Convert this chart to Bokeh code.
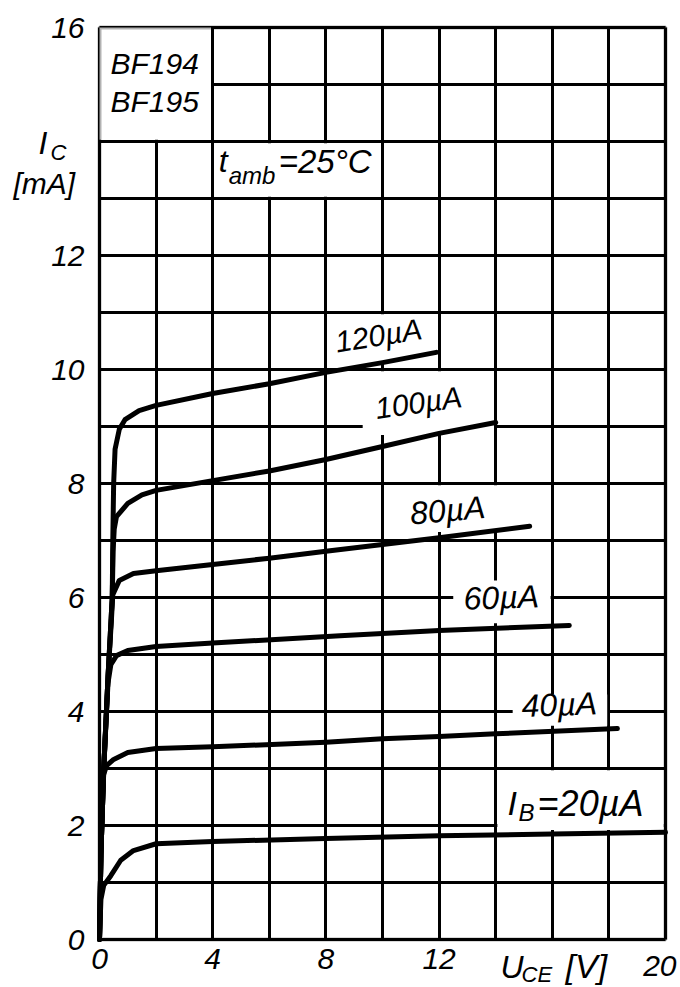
from bokeh.plotting import figure
from bokeh.models import Range1d, FixedTicker, Label, BoxAnnotation, LinearAxis, Grid
from bokeh.embed import file_html
from bokeh.resources import INLINE

# ---------------- data: I_C [mA] versus U_CE [V] for several base currents
u_120 = [0, 0.05, 0.15, 0.3, 0.45, 0.47, 0.5, 0.55, 0.7, 0.9, 1.4, 2, 4, 6, 8, 10, 11.9]
ic_120 = [0, 1.5, 3.0, 4.6, 6.0, 7.0, 8.0, 8.6, 8.95, 9.12, 9.28, 9.37, 9.58, 9.75, 9.95, 10.12, 10.3]

u_100 = [0, 0.05, 0.15, 0.3, 0.45, 0.48, 0.52, 0.6, 1.0, 1.5, 2, 4, 6, 8, 10, 12, 14]
ic_100 = [0, 1.5, 3.0, 4.6, 6.0, 6.8, 7.2, 7.42, 7.65, 7.8, 7.88, 8.05, 8.22, 8.42, 8.65, 8.88, 9.07]

u_80 = [0, 0.05, 0.15, 0.3, 0.42, 0.47, 0.7, 1.2, 2, 4, 6, 8, 10, 12, 15.2]
ic_80 = [0, 1.5, 3.0, 4.6, 5.6, 6.05, 6.3, 6.42, 6.47, 6.58, 6.69, 6.81, 6.93, 7.05, 7.25]

u_60 = [0, 0.05, 0.15, 0.3, 0.4, 0.6, 1.0, 2, 4, 8.5, 12, 16.6]
ic_60 = [0, 1.5, 3.0, 4.5, 4.82, 4.98, 5.07, 5.14, 5.2, 5.33, 5.42, 5.51]

u_40 = [0, 0.05, 0.1, 0.15, 0.25, 0.5, 1.0, 2, 4, 8, 10, 12, 14, 18.3]
ic_40 = [0, 1.5, 2.5, 2.9, 3.05, 3.16, 3.28, 3.35, 3.38, 3.46, 3.52, 3.56, 3.61, 3.70]

u_20 = [0, 0.05, 0.15, 0.4, 0.75, 1.2, 2, 4, 8, 12, 16, 20]
ic_20 = [0, 0.7, 0.95, 1.12, 1.39, 1.56, 1.68, 1.72, 1.77, 1.82, 1.85, 1.88]

curve_labels = ["120µA", "100µA", "80µA", "60µA", "40µA"]
x_ticks = [0, 4, 8, 12]
x_last_tick = 20
x_last_tick_label = "20"
y_ticks = [0, 2, 4, 6, 8, 10, 12, 16]
x_grid = [0, 2, 4, 6, 8, 10, 12, 14, 16, 18, 20]
y_grid = list(range(0, 17))
U_MAX, I_MAX = 20, 16

# ---------------- layout: the frame fills the canvas, the chart box sits inside it
W, H = 680, 987
PX_L, PX_R, PX_T, PX_B = 99, 665, 27, 939
sx = (PX_R - PX_L) / U_MAX
sy = (PX_B - PX_T) / I_MAX
X0, X1 = -PX_L / sx, U_MAX + (W - PX_R) / sx
Y0, Y1 = -(H - PX_B) / sy, I_MAX + PX_T / sy

FONT = "Liberation Sans"

p = figure(width=W, height=H, x_range=Range1d(X0, X1), y_range=Range1d(Y0, Y1),
           output_backend="svg", toolbar_location=None,
           x_axis_location=None, y_axis_location=None, min_border=0)
# drop any default grids, the chart's own grid follows
p.center = [r for r in p.center if not isinstance(r, Grid)]
p.background_fill_color = "white"
p.border_fill_color = "white"
p.outline_line_color = None

# grid lines only inside the chart box
p.add_layout(Grid(dimension=0, ticker=FixedTicker(ticks=x_grid), bounds=(0, U_MAX),
                  cross_bounds=(0, I_MAX), grid_line_color="black", grid_line_width=3))
p.add_layout(Grid(dimension=1, ticker=FixedTicker(ticks=y_grid), bounds=(0, I_MAX),
                  cross_bounds=(0, U_MAX), grid_line_color="black", grid_line_width=3))


def white_box(l, r, b, t):
    p.add_layout(BoxAnnotation(left=l, right=r, bottom=b, top=t, fill_color="white",
                               fill_alpha=1.0, line_color=None, level="underlay"))


# white label fields that interrupt the grid
fields = [
    (0.0, 3.94, 14.03, 16.0),
    (4.06, 9.94, 13.03, 13.97),
    (8.06, 11.94, 10.15, 10.97),
    (9.3, 13.94, 8.85, 9.97),
    (10.5, 14.4, 7.15, 7.97),
    (12.5, 15.94, 5.55, 6.3),
    (14.6, 17.94, 3.75, 4.3),
    (14.06, 19.94, 1.92, 2.97),
]
for f in fields:
    white_box(*f)

# chart border
p.add_layout(BoxAnnotation(left=0, right=U_MAX, bottom=0, top=I_MAX, fill_alpha=0,
                           line_color="black", line_width=4, level="underlay"))

for u, ic in [(u_120, ic_120), (u_100, ic_100), (u_80, ic_80),
              (u_60, ic_60), (u_40, ic_40), (u_20, ic_20)]:
    p.line(u, ic, line_color="black", line_width=5, line_cap="round", line_join="round")

# axes fixed at the chart's edges
xaxis = LinearAxis(fixed_location=0, ticker=FixedTicker(ticks=x_ticks), bounds=(0, U_MAX))
yaxis = LinearAxis(fixed_location=0, ticker=FixedTicker(ticks=y_ticks), bounds=(0, I_MAX))
for ax in (xaxis, yaxis):
    ax.axis_line_color = None
    ax.major_tick_line_color = None
    ax.minor_tick_line_color = None
    ax.major_label_text_font = FONT
    ax.major_label_text_font_style = "italic"
    ax.major_label_text_font_size = "30px"
    ax.major_label_text_color = "black"
xaxis.major_label_standoff = 3
yaxis.major_label_standoff = 9
p.add_layout(xaxis, "below")
p.add_layout(yaxis, "left")


def txt(x, y, s, size, angle=0.0, align="left", dx=0):
    p.add_layout(Label(x=x, y=y, text=s, x_offset=dx, text_font=FONT, text_font_style="italic",
                       text_font_size=f"{size}px", text_color="black", angle=angle,
                       text_align=align, text_baseline="middle"))


# curve labels
label_pos = [(9.86, 10.6, 0.157, 30), (11.27, 9.42, 0.14, 30), (12.3, 7.53, 0.087, 32),
             (14.2, 6.0, 0.035, 32), (16.25, 4.12, 0.035, 32)]
for s, (x, y, a, sz) in zip(curve_labels, label_pos):
    txt(x, y, s, sz, angle=a, align="center")

# I_B = 20 µA
txt(14.42, 2.40, "I", 34)
txt(14.42, 2.23, "B", 24, dx=11)
txt(14.42, 2.39, "=20µA", 36, dx=30)

# type designation and temperature
txt(0.0, 15.37, "BF194", 30, dx=11)
txt(0.0, 14.70, "BF195", 30, dx=11)
txt(4.0, 13.65, "t", 32, dx=6)
txt(4.0, 13.40, "amb", 24, dx=16)
txt(4.0, 13.65, "=25°C", 33, dx=66)

# axis titles
txt(-2.155, 13.98, "I", 32)
txt(-1.73, 13.80, "C", 22)
txt(-3.04, 13.26, "[mA]", 30)
txt(14.17, -0.49, "U", 32)
txt(14.17, -0.62, "CE", 22, dx=21)
txt(14.17, -0.47, "[V]", 34, dx=65)

# last x tick label, right-aligned so it stays on the canvas
txt(x_last_tick, -0.47, x_last_tick_label, 30, align="right", dx=11)

open("out.html", "w").write(file_html(p, INLINE))
